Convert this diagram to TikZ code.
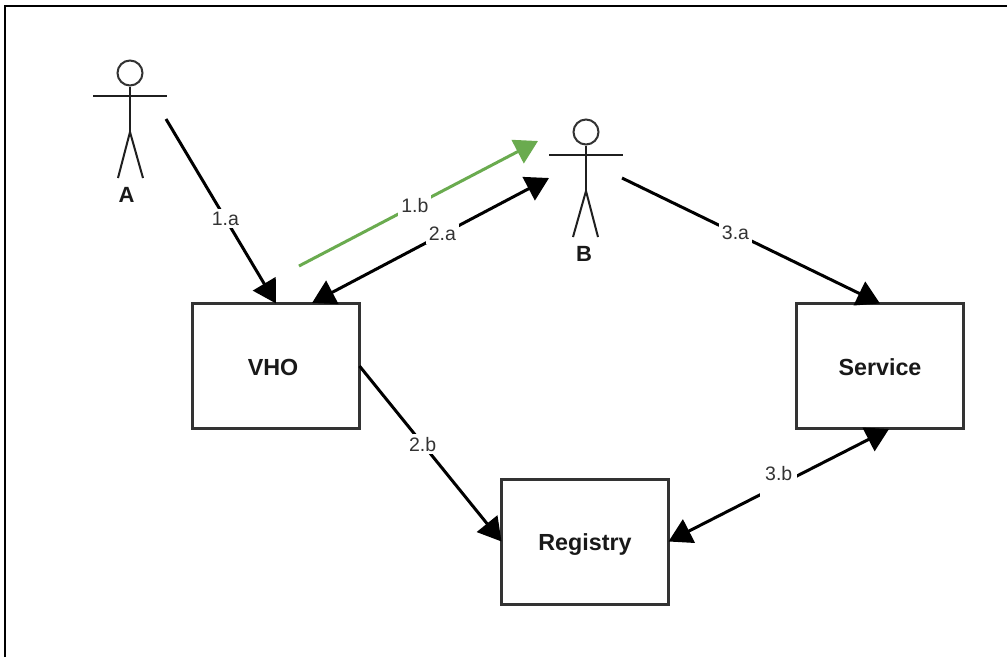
\documentclass[tikz,border=0pt]{standalone}
\usepackage{fontspec}
\setmainfont{Liberation Sans}
\usetikzlibrary{arrows.meta}
\definecolor{boxline}{HTML}{333333}
\definecolor{greenline}{HTML}{6AAB4F}
\tikzset{
  box/.style={draw=boxline,line width=3pt,fill=white,minimum width=167pt,minimum height=125pt,inner sep=0pt,outer sep=0pt,text height=18pt,text depth=0pt,font=\fontsize{23.3}{27}\selectfont\bfseries,text=black!90},
  conn/.style={line width=3pt,draw=black,-{Triangle[length=23pt,width=26pt]}},
  biconn/.style={line width=3pt,draw=black,{Triangle[length=23pt,width=26pt]}-{Triangle[length=23pt,width=26pt]}},
  greenconn/.style={line width=3pt,draw=greenline,-{Triangle[length=23pt,width=26pt,fill=greenline]}},
  lab/.style={fill=white,inner sep=3pt,text=boxline,font=\fontsize{19.5}{23}\selectfont},
  raisedlab/.style={lab,anchor=base,yshift=5pt,text depth=15pt,inner xsep=5pt},
  head/.style={circle,draw=boxline,line width=2pt,minimum size=25pt,inner sep=0pt},
  limb/.style={line width=2pt,draw=boxline!60!black},
  actorname/.style={inner sep=0pt,text=black!90,font=\fontsize{22}{26}\selectfont\bfseries},
  frameline/.style={line width=2.5pt,draw=black}
}
\begin{document}
\begin{tikzpicture}[x=1pt,y=-1pt]
\useasboundingbox (0,0) rectangle (1007,657);
\fill[white] (0,0) rectangle (1007,657);
% frame
\coordinate (fbl) at (5,657);
\coordinate (ftl) at (5,6);
\coordinate (ftr) at (1007,6);
\draw[frameline] (fbl) -- (ftl) -- (ftr);
% boxes
\node[box] (vho) at (276,366) {VHO\kern6pt};
\node[box] (service) at (880,366) {Service};
\node[box] (registry) at (585,541.5) {Registry};
% actor A
\node[head] (ahead) at (130,73) {};
\coordinate (aarml) at (93,96);
\coordinate (aarmr) at (167,96);
\coordinate (ahip) at (130,132);
\coordinate (alegl) at (118,178);
\coordinate (alegr) at (143,178);
\draw[limb] (ahead) -- (ahip);
\draw[limb] (aarml) -- (aarmr);
\draw[limb] (alegl) -- (ahip) -- (alegr);
\node[actorname] (aname) at (126.5,195) {A};
% actor B
\node[head] (bhead) at (586,132) {};
\coordinate (barml) at (549,155);
\coordinate (barmr) at (623,155);
\coordinate (bhip) at (586,191);
\coordinate (blegl) at (573,237);
\coordinate (blegr) at (598,237);
\draw[limb] (bhead) -- (bhip);
\draw[limb] (barml) -- (barmr);
\draw[limb] (blegl) -- (bhip) -- (blegr);
\node[actorname] (bname) at (584,254) {B};
% free ends
\coordinate (s1a) at (166,119);
\coordinate (s1b) at (299,266);
\coordinate (e1b) at (538,141);
\coordinate (e2a) at (549,178);
\coordinate (v2a) at (312,303);
\coordinate (s3a) at (622,178);
\coordinate (e3b) at (889,429);
% connectors
\draw[conn] (s1a) -- (vho.north) node[lab,pos=0.54] {1.a};
\draw[greenconn] (s1b) -- (e1b) node[lab,pos=0.485] {1.b};
\draw[biconn] (v2a) -- (e2a) node[lab,pos=0.55] {2.a};
\draw[conn] (s3a) -- (service.north) node[lab,pos=0.44] {3.a};
\draw[conn] (vho.east) -- (registry.west) node[lab,pos=0.445] {2.b};
\draw[biconn] (registry.east) -- (e3b) node[raisedlab,pos=0.5] {3.b};
\end{tikzpicture}
\end{document}
